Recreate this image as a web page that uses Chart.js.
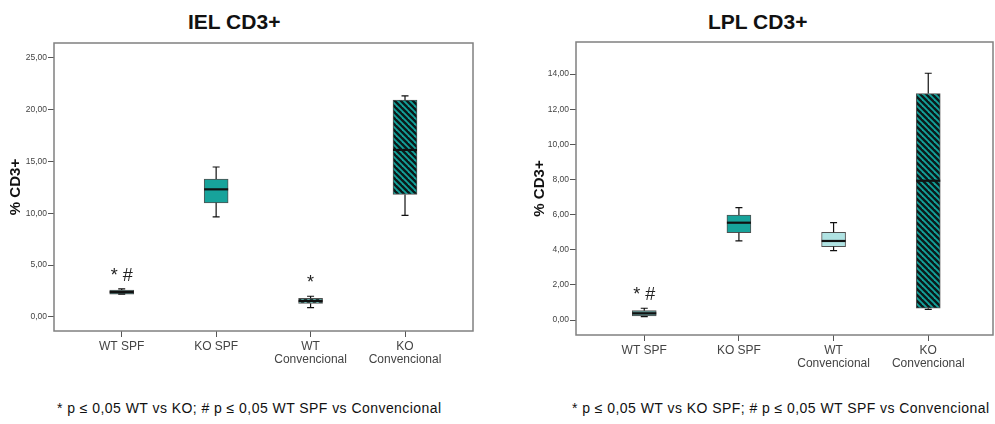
<!DOCTYPE html>
<html>
<head>
<meta charset="utf-8">
<script src="https://cdn.jsdelivr.net/npm/chart.js@4.4.0/dist/chart.umd.min.js"></script>
<style>
  body { margin: 0; background: #fff; width: 995px; height: 424px; position: relative; overflow: hidden; }
  canvas { position: absolute; top: 0; }
  .ttl { position: absolute; top: 10px; height: 24px; line-height: 24px; font: bold 21px "Liberation Sans", Arial, sans-serif; color: #111; }
  .note { position: absolute; top: 400px; height: 16px; line-height: 16px; font: 14px "Liberation Sans", Arial, sans-serif; letter-spacing: 0.45px; color: #111; white-space: nowrap; }
</style>
</head>
<body>
<div class="ttl" style="left:188px">IEL CD3+</div>
<div class="ttl" style="left:708px">LPL CD3+</div>
<canvas id="ielChart" width="490" height="385" style="left:0"></canvas>
<canvas id="lplChart" width="475" height="385" style="left:520px"></canvas>
<div class="note" style="left:57px">* p ≤ 0,05 WT vs KO; # p ≤ 0,05 WT SPF vs Convencional</div>
<div class="note" style="left:572px">* p ≤ 0,05 WT vs KO SPF; # p ≤ 0,05 WT SPF vs Convencional</div>
<script>
var categories = [["WT SPF"], ["KO SPF"], ["WT", "Convencional"], ["KO", "Convencional"]];

// IEL CD3+ (%)
var ielWhiskerLow  = [2.2, 9.65, 0.9, 9.8];
var ielQ1          = [2.2, 11.0, 1.3, 11.8];
var ielMedian      = [2.4, 12.3, 1.55, 16.1];
var ielQ3          = [2.6, 13.3, 1.8, 20.9];
var ielWhiskerHigh = [2.7, 14.45, 2.0, 21.3];
var ielMarks = ["* #", "", "*", ""];
var ielTicks = [0, 5, 10, 15, 20, 25];

// LPL CD3+ (%)
var lplWhiskerLow  = [0.19, 4.5, 3.95, 0.6];
var lplQ1          = [0.23, 4.97, 4.18, 0.67];
var lplMedian      = [0.38, 5.54, 4.5, 7.93];
var lplQ3          = [0.53, 5.98, 4.99, 12.9];
var lplWhiskerHigh = [0.67, 6.4, 5.54, 14.05];
var lplMarks = ["* #", "", "", ""];
var lplTicks = [0, 2, 4, 6, 8, 10, 12, 14];

function hatch(base, stripe) {
  var c = document.createElement("canvas");
  c.width = 6; c.height = 6;
  var g = c.getContext("2d");
  g.fillStyle = base;
  g.fillRect(0, 0, 6, 6);
  g.strokeStyle = stripe;
  g.lineWidth = 2.4;
  [-6, 0, 6].forEach(function(k) {
    g.beginPath();
    g.moveTo(k - 1, -1);
    g.lineTo(k + 7, 7);
    g.stroke();
  });
  return g.createPattern(c, "repeat");
}

var ielColors = ["#4f8f8c", "#17a39b", hatch("#6fc2bd", "#1d3d3b"), hatch("#13a19a", "#0b1a1a")];
var lplColors = ["#5f9996", "#17a39b", "#b0e3e3", hatch("#13a19a", "#0b1a1a")];

var boxPlugin = {
  id: "boxParts",
  beforeDatasetsDraw: function(chart) {
    var a = chart.chartArea, c = chart.ctx;
    c.save();
    c.strokeStyle = "#808080";
    c.lineWidth = 1.5;
    c.strokeRect(a.left, a.top, a.right - a.left, a.bottom - a.top);
    c.restore();
  },
  afterDatasetsDraw: function(chart, args, opts) {
    var c = chart.ctx, xs = chart.scales.x, ys = chart.scales.y;
    var meta = chart.getDatasetMeta(0);
    c.save();
    for (var i = 0; i < opts.median.length; i++) {
      var x = xs.getPixelForValue(i);
      var w = meta.data[i].width;
      var yHi = ys.getPixelForValue(opts.high[i]);
      var yQ3 = ys.getPixelForValue(opts.q3[i]);
      var yQ1 = ys.getPixelForValue(opts.q1[i]);
      var yLo = ys.getPixelForValue(opts.low[i]);
      c.strokeStyle = "#111";
      c.lineWidth = 1.2;
      c.beginPath();
      c.moveTo(x, yHi); c.lineTo(x, yQ3);
      c.moveTo(x, yQ1); c.lineTo(x, yLo);
      c.moveTo(x - 3.5, yHi); c.lineTo(x + 3.5, yHi);
      c.moveTo(x - 3.5, yLo); c.lineTo(x + 3.5, yLo);
      c.stroke();
      c.lineWidth = 2.2;
      c.beginPath();
      var yM = ys.getPixelForValue(opts.median[i]);
      c.moveTo(x - w / 2, yM); c.lineTo(x + w / 2, yM);
      c.stroke();
      if (opts.marks[i]) {
        c.fillStyle = "#222";
        c.font = "18px 'Liberation Sans', Arial, sans-serif";
        c.textAlign = "center";
        c.textBaseline = "middle";
        c.fillText(opts.marks[i], x, yHi - 13);
      }
    }
    c.restore();
  }
};

function makeChart(canvasId, colors, q1, q3, median, low, high, marks, ticks, yMin, yMax, xMin, xMax, axisW, axisH, padTop, padRight, titlePad) {
  var ctx = document.getElementById(canvasId).getContext("2d");
  return new Chart(ctx, {
    type: "bar",
    data: {
      datasets: [{
        data: q1.map(function(v, i) { return { x: i, y: [v, q3[i]] }; }),
        backgroundColor: colors,
        borderColor: "#505050",
        borderWidth: 1,
        borderSkipped: false,
        barThickness: 24
      }]
    },
    options: {
      responsive: false,
      animation: false,
      layout: { padding: { top: padTop, right: padRight, left: 0, bottom: 0 } },
      plugins: {
        legend: { display: false },
        tooltip: { enabled: false },
        boxParts: { q1: q1, q3: q3, median: median, low: low, high: high, marks: marks }
      },
      scales: {
        x: {
          type: "linear",
          min: xMin,
          max: xMax,
          offset: false,
          afterBuildTicks: function(scale) {
            scale.ticks = categories.map(function(c, i) { return { value: i }; });
          },
          afterFit: function(scale) { scale.height = axisH; },
          grid: { offset: false, drawOnChartArea: false, drawTicks: true, tickLength: 6, color: "#555" },
          border: { display: false },
          ticks: {
            autoSkip: false,
            maxRotation: 0,
            padding: 3,
            color: "#444",
            font: { family: "'Liberation Sans', Arial, sans-serif", size: 12, lineHeight: 1.1 },
            callback: function(v) { return categories[v]; }
          }
        },
        y: {
          min: yMin,
          max: yMax,
          afterBuildTicks: function(scale) {
            scale.ticks = ticks.map(function(t) { return { value: t }; });
          },
          afterFit: function(scale) { scale.width = axisW; },
          grid: { drawOnChartArea: false, drawTicks: true, tickLength: 6, color: "#555" },
          border: { display: false },
          ticks: {
            padding: 1,
            color: "#444",
            font: { family: "'Liberation Sans', Arial, sans-serif", size: 8.5 },
            callback: function(v) { return v.toFixed(2).replace(".", ","); }
          },
          title: {
            display: true,
            text: "% CD3+",
            color: "#111",
            padding: { top: titlePad, bottom: 0 },
            font: { family: "'Liberation Sans', Arial, sans-serif", size: 15, weight: "bold" }
          }
        }
      }
    },
    plugins: [boxPlugin]
  });
}

makeChart("ielChart", ielColors, ielQ1, ielQ3, ielMedian, ielWhiskerLow, ielWhiskerHigh, ielMarks, ielTicks,
  -1.35, 26.4, -0.717, 3.72, 54, 54, 43, 17, 7);
makeChart("lplChart", lplColors, lplQ1, lplQ3, lplMedian, lplWhiskerLow, lplWhiskerHigh, lplMarks, lplTicks,
  -0.854, 15.83, -0.721, 3.684, 56, 50, 42, 2, 11);
</script>
</body>
</html>
